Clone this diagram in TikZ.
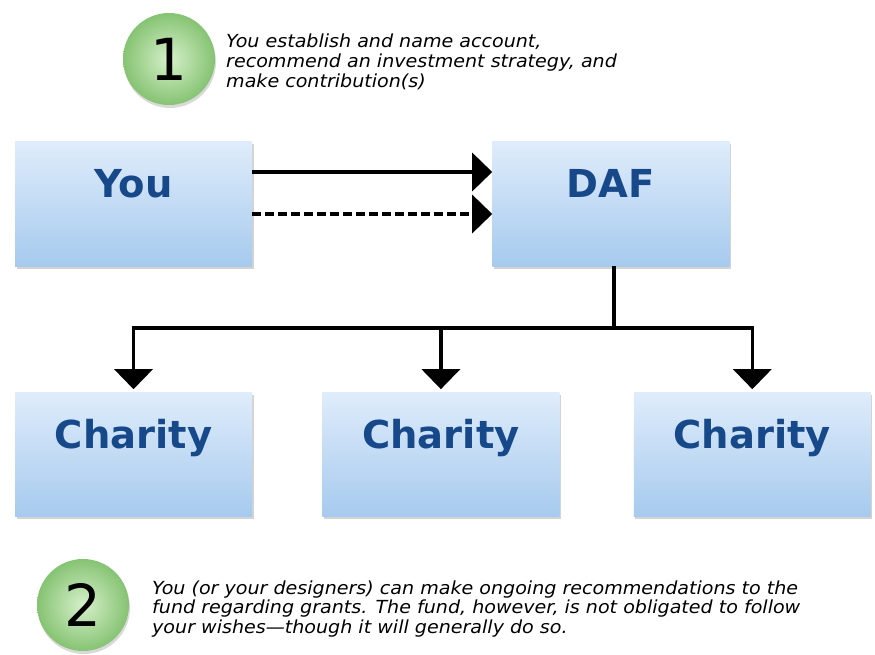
\documentclass[tikz,border=0pt]{standalone}
\usepackage{fontspec}
\setmainfont{DejaVu Sans}
\newfontfamily\widefont[FakeStretch=1.06]{DejaVu Sans}
\usetikzlibrary{calc}
\usetikzlibrary{positioning}
\usetikzlibrary{arrows.meta}
\usetikzlibrary{shadows}
\definecolor{boxtop}{HTML}{DFECFB}
\definecolor{boxbot}{HTML}{A6CAEE}
\definecolor{labelblue}{HTML}{17498A}
\definecolor{balledge}{HTML}{86C373}
\definecolor{ballmid}{HTML}{D6F0CA}
\tikzstyle{boxnode} = [rectangle, minimum width=237pt, minimum height=124pt, top color=boxtop, bottom color=boxbot, drop shadow={shadow xshift=1.5pt, shadow yshift=-2.5pt, opacity=.35}, text=labelblue, font=\fontsize{38.5}{40}\selectfont\bfseries, text height=28pt, text depth=40pt]
\tikzstyle{ballnode} = [circle, minimum size=92pt, inner sep=0pt, shading=radial, inner color=ballmid, outer color=balledge, drop shadow={shadow xshift=1pt, shadow yshift=-3pt, opacity=.3}, font=\fontsize{58}{60}\selectfont]
\tikzstyle{notenode} = [anchor=west, align=left, inner sep=0pt, font=\widefont\fontsize{18}{19.7}\selectfont\itshape]
\tikzstyle{flow} = [line width=3.5pt, -{Triangle[width=38pt, length=20pt]}]

\begin{document}
\begin{tikzpicture}[x=1pt, y=-1pt]
  \useasboundingbox (0,0) rectangle (875,655);

  \node[ballnode] (one) at (169,59) {1};
  \node[notenode] (note1) at (226,62) {You establish and name account,\\recommend an investment strategy, and\\make contribution(s)};

  \node[boxnode] (you) at (133.5,204) {You};
  \node[boxnode, right=240pt of you] (daf) {DAF};
  \node[boxnode, below=126pt of you] (ch1) {Charity};
  \node[boxnode, right=70pt of ch1] (ch2) {Charity};
  \node[boxnode, right=74pt of ch2] (ch3) {Charity};

  \node[ballnode] (two) at (83,605) {2};
  \node[notenode] (note2) at (152,609) {You (or your designers) can make ongoing recommendations to the\\fund regarding grants. The fund, however, is not obligated to follow\\your wishes—though it will generally do so.};

  \draw[flow] ([yshift=32pt]you.east) -- ([yshift=32pt]daf.west);
  \draw[flow, dash pattern=on 9pt off 4pt] ([yshift=-10pt]you.east) -- ([yshift=-10pt]daf.west);

  \coordinate (dafout) at ([xshift=3pt]daf.south);
  \coordinate (split) at ($(dafout)+(0,62)$);
  \draw[line width=3.5pt] (dafout) -- (split);
  \foreach \c in {ch1,ch2,ch3}
    \draw[flow, shorten >=3pt] (split) -| (\c.north);
\end{tikzpicture}
\end{document}
